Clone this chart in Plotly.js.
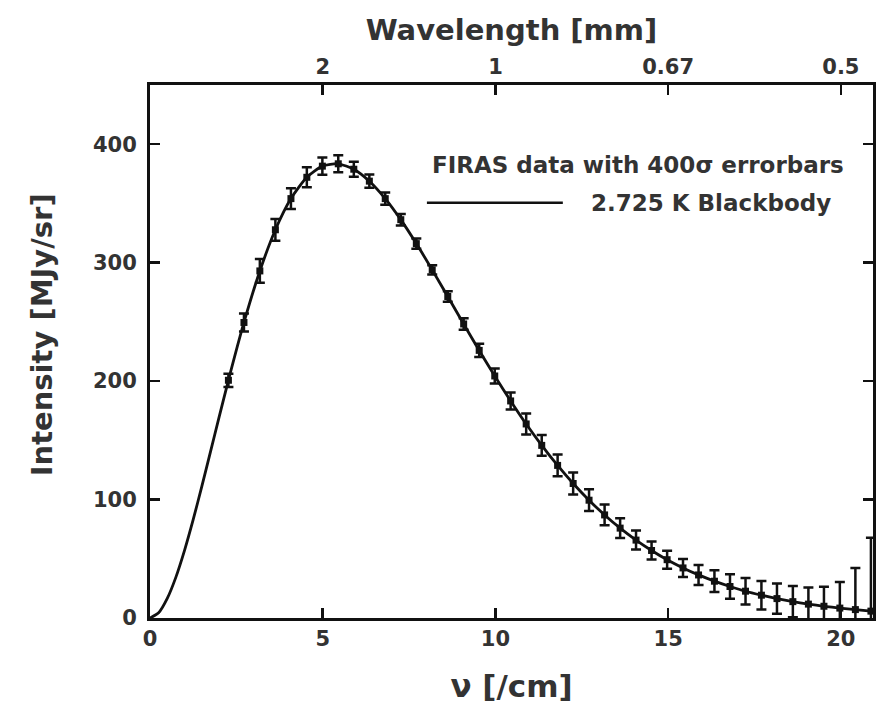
<!DOCTYPE html>
<html>
<head>
<meta charset="utf-8">
<script src="https://cdn.plot.ly/plotly-3.0.1.min.js"></script>
<style>html,body{margin:0;padding:0;background:#fff;}</style>
</head>
<body>
<div id="chart" style="width:889px;height:715px"></div>
<script>
// FIRAS frequencies [/cm]
const nu = [2.27, 2.72, 3.18, 3.63, 4.08, 4.54, 4.99, 5.45, 5.90, 6.35, 6.81, 7.26, 7.71, 8.17, 8.62, 9.08, 9.53, 9.98, 10.44, 10.89, 11.34, 11.80, 12.25, 12.71, 13.16, 13.61, 14.07, 14.52, 14.97, 15.43, 15.88, 16.34, 16.79, 17.24, 17.70, 18.15, 18.61, 19.06, 19.51, 19.97, 20.42, 20.87, 21.33];
// FIRAS intensities [MJy/sr]
const intensity = [200.72, 249.51, 293.02, 327.77, 354.08, 372.08, 381.49, 383.48, 378.90, 368.83, 354.06, 336.28, 316.08, 293.92, 271.43, 248.24, 225.94, 204.33, 183.26, 163.83, 145.75, 128.84, 113.57, 99.45, 87.04, 75.88, 65.77, 57.01, 49.22, 42.27, 36.35, 31.06, 26.58, 22.64, 19.26, 16.39, 13.81, 11.72, 9.92, 8.36, 7.09, 5.80, 4.52];
// 1-sigma uncertainties [kJy/sr]
const sigmaKJy = [14, 19, 25, 23, 22, 21, 18, 18, 16, 14, 13, 12, 11, 10, 11, 12, 14, 16, 18, 22, 22, 23, 23, 23, 22, 21, 20, 19, 19, 19, 21, 23, 26, 28, 30, 32, 33, 35, 41, 55, 88, 155, 282];
const errMultiplier = 400;
// 2.725 K blackbody curve [/cm], [MJy/sr]
const bbNu = [0, 0.25, 0.5, 0.75, 1.0, 1.25, 1.5, 1.75, 2.0, 2.27, 2.72, 3.18, 3.63, 4.08, 4.54, 4.99, 5.45, 5.90, 6.35, 6.81, 7.26, 7.71, 8.17, 8.62, 9.08, 9.53, 9.98, 10.44, 10.89, 11.34, 11.80, 12.25, 12.71, 13.16, 13.61, 14.07, 14.52, 14.97, 15.43, 15.88, 16.34, 16.79, 17.24, 17.70, 18.15, 18.61, 19.06, 19.51, 19.97, 20.42, 20.87, 21.33];
const bbI = [0, 4.4, 16.5, 34.5, 57.1, 83.0, 111.1, 140.2, 169.6, 200.7, 249.5, 293.0, 327.8, 354.1, 372.1, 381.5, 383.5, 378.9, 368.8, 354.1, 336.3, 316.1, 293.9, 271.4, 248.2, 225.9, 204.3, 183.3, 163.8, 145.8, 128.8, 113.6, 99.5, 87.0, 75.9, 65.8, 57.0, 49.2, 42.3, 36.4, 31.1, 26.6, 22.6, 19.3, 16.4, 13.8, 11.7, 9.9, 8.4, 7.1, 5.8, 4.5];
// axis ticks and texts
const xTickVals = [0, 5, 10, 15, 20];
const topTickVals = [5, 10, 15, 20];
const topTickText = ['2', '1', '0.67', '0.5'];
const yTickVals = [0, 100, 200, 300, 400];
const legendData = 'FIRAS data with 400σ errorbars';
const legendCurve = '2.725 K Blackbody';
const yTitle = 'Intensity [MJy/sr]';

const errBars = sigmaKJy.map(s => s * errMultiplier / 1000);

const FONT = 'DejaVu Sans, sans-serif';
const INK = '#111';
const TXT = '#333';

const traces = [
  {
    x: bbNu, y: bbI, type: 'scatter', mode: 'lines',
    line: {color: INK, width: 2.8, shape: 'spline', smoothing: 0.6},
    showlegend: false, hoverinfo: 'skip'
  },
  {
    x: nu, y: intensity, type: 'scatter', mode: 'markers',
    marker: {color: INK, size: 7, symbol: 'square'},
    error_y: {type: 'data', array: errBars, visible: true, color: INK, thickness: 2.5, width: 5},
    showlegend: false
  },
  {
    x: [null], y: [null], xaxis: 'x2', type: 'scatter', mode: 'markers',
    showlegend: false, hoverinfo: 'skip'
  }
];

const axisCommon = {
  showgrid: false, zeroline: false, showline: true,
  linecolor: INK, linewidth: 3,
  ticks: 'inside', ticklen: 10, tickwidth: 2.5, tickcolor: INK,
  tickfont: {family: FONT, size: 21, color: TXT, weight: 'bold'}
};

const layout = {
  width: 889, height: 715,
  margin: {l: 150, r: 16, t: 85, b: 97, pad: 0},
  paper_bgcolor: '#fff', plot_bgcolor: '#fff',
  xaxis: Object.assign({}, axisCommon, {
    range: [0, 20.93], tickvals: xTickVals, ticktext: xTickVals.map(String),
    title: {text: 'ν [/cm]', font: {family: FONT, size: 31, color: TXT, weight: 'bold'}, standoff: 26}
  }),
  xaxis2: Object.assign({}, axisCommon, {
    overlaying: 'x', side: 'top', anchor: 'y',
    range: [0, 20.93], tickvals: topTickVals, ticktext: topTickText,
    title: {text: 'Wavelength [mm]', font: {family: FONT, size: 29, color: TXT, weight: 'bold'}, standoff: 6}
  }),
  yaxis: Object.assign({}, axisCommon, {
    range: [0, 450], tickvals: yTickVals, ticktext: yTickVals.map(String),
    mirror: 'ticks', ticklabelstandoff: 6
  }),
  annotations: [
    {xref: 'paper', yref: 'paper', x: -0.149, y: 0.531, xanchor: 'center', yanchor: 'middle',
     textangle: -90, text: yTitle, showarrow: false, font: {family: FONT, size: 29, color: TXT, weight: 'bold'}},
    {xref: 'paper', yref: 'paper', x: 0.962, y: 0.85, xanchor: 'right', yanchor: 'middle',
     text: legendData, showarrow: false, font: {family: FONT, size: 23, color: TXT, weight: 'bold'}},
    {xref: 'paper', yref: 'paper', x: 0.944, y: 0.779, xanchor: 'right', yanchor: 'middle',
     text: legendCurve, showarrow: false, font: {family: FONT, size: 23, color: TXT, weight: 'bold'}}
  ],
  shapes: [
    {type: 'line', xref: 'paper', yref: 'paper', x0: 0.383, x1: 0.571, y0: 0.779, y1: 0.779,
     line: {color: INK, width: 2.5}}
  ]
};

Plotly.newPlot('chart', traces, layout, {displayModeBar: false, staticPlot: true});
</script>
</body>
</html>
